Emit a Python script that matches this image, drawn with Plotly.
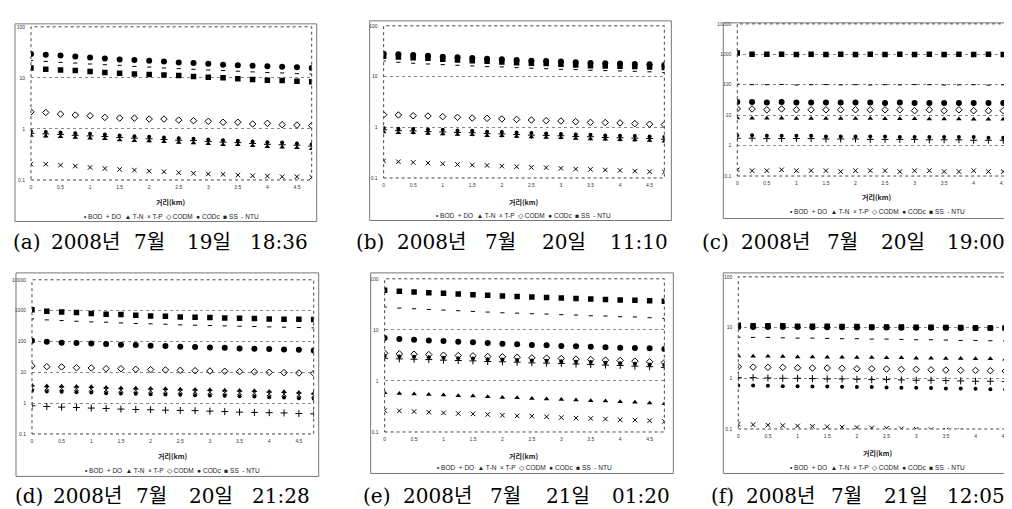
import math
import plotly.graph_objects as go

# ---------------- data ----------------
DIST = [0, 0.25, 0.5, 0.75, 1, 1.25, 1.5, 1.75, 2, 2.25, 2.5, 2.75, 3, 3.25, 3.5, 3.75, 4, 4.25, 4.5, 4.75]
X_TICKS = [0, 0.5, 1, 1.5, 2, 2.5, 3, 3.5, 4, 4.5]
X_TICK_LABELS = ["0", "0.5", "1", "1.5", "2", "2.5", "3", "3.5", "4", "4.5"]
SERIES = ["BOD", "DO", "T-N", "T-P", "CODM", "CODc", "SS", "NTU"]
X_TITLE = "거리(km)"

# (a) 2008-07-19 18:36
A_BOD = [0.90, 0.875, 0.85, 0.82, 0.80, 0.78, 0.74, 0.72, 0.70, 0.68, 0.66, 0.64, 0.62, 0.60, 0.59, 0.57, 0.55, 0.54, 0.52, 0.50]
A_DO = [0.82, 0.80, 0.78, 0.75, 0.73, 0.71, 0.68, 0.66, 0.64, 0.62, 0.60, 0.59, 0.57, 0.55, 0.54, 0.52, 0.50, 0.49, 0.48, 0.46]
A_TN = [0.74, 0.72, 0.70, 0.68, 0.66, 0.64, 0.61, 0.59, 0.58, 0.56, 0.54, 0.53, 0.51, 0.49, 0.49, 0.47, 0.45, 0.44, 0.43, 0.41]
A_TP = [0.204, 0.204, 0.195, 0.187, 0.176, 0.168, 0.161, 0.156, 0.149, 0.145, 0.139, 0.135, 0.131, 0.129, 0.125, 0.121, 0.119, 0.116, 0.116, 0.113]
A_CODM = [2.16, 2.10, 1.95, 1.87, 1.81, 1.68, 1.63, 1.63, 1.56, 1.56, 1.49, 1.45, 1.41, 1.35, 1.35, 1.25, 1.29, 1.21, 1.19, 1.16]
A_CODC = [29.2, 28.3, 27.5, 26.3, 25.1, 24.0, 23.0, 22.3, 21.6, 21.0, 20.1, 19.5, 18.9, 18.1, 17.6, 17.3, 16.8, 16.5, 16.1, 15.6]
A_SS = [15.6, 14.8, 14.3, 13.9, 13.3, 12.7, 12.3, 11.9, 11.6, 11.4, 11.1, 10.6, 10.3, 10.0, 9.6, 9.3, 9.0, 8.9, 8.6, 8.4]
A_NTU = [21.7, 21.0, 20.1, 19.5, 18.7, 18.1, 17.6, 16.8, 16.3, 15.6, 15.2, 14.7, 14.3, 13.9, 13.5, 13.1, 12.7, 12.5, 12.1, 11.9]

# (b) 2008-07-20 11:10
B_BOD = [0.97, 0.94, 0.93, 0.90, 0.89, 0.86, 0.85, 0.82, 0.81, 0.79, 0.77, 0.75, 0.74, 0.72, 0.71, 0.69, 0.68, 0.67, 0.66, 0.64]
B_DO = [0.89, 0.86, 0.85, 0.82, 0.81, 0.79, 0.78, 0.75, 0.74, 0.72, 0.70, 0.69, 0.68, 0.66, 0.65, 0.63, 0.62, 0.61, 0.60, 0.58]
B_TN = [0.81, 0.78, 0.78, 0.75, 0.74, 0.72, 0.71, 0.68, 0.68, 0.66, 0.64, 0.63, 0.62, 0.60, 0.59, 0.58, 0.57, 0.56, 0.55, 0.53]
B_TP = [0.216, 0.209, 0.203, 0.197, 0.191, 0.185, 0.180, 0.177, 0.172, 0.167, 0.162, 0.160, 0.155, 0.150, 0.148, 0.144, 0.141, 0.137, 0.133, 0.131]
B_CODM = [1.77, 1.75, 1.69, 1.67, 1.62, 1.57, 1.52, 1.50, 1.46, 1.43, 1.39, 1.35, 1.33, 1.29, 1.25, 1.24, 1.22, 1.18, 1.15, 1.13]
B_CODC = [28.2, 27.4, 26.6, 25.8, 24.7, 23.9, 23.2, 22.5, 21.9, 21.2, 20.6, 20.3, 19.7, 19.1, 18.5, 18.3, 18.0, 17.7, 17.5, 16.9]
B_SS = [25.0, 24.3, 23.6, 22.9, 21.9, 21.2, 20.6, 20.0, 19.4, 18.8, 18.3, 18.0, 17.5, 16.9, 16.4, 16.2, 16.0, 15.7, 15.5, 15.0]
B_NTU = [20.3, 19.1, 18.3, 17.7, 17.2, 16.7, 16.2, 15.7, 15.5, 15.0, 14.6, 14.3, 13.9, 13.7, 13.3, 13.1, 12.9, 12.7, 12.4, 12.0]

# (c) 2008-07-20 19:00
C_BOD = [2.2, 2.2, 2.1, 2.1, 2.1, 2.1, 2.0, 2.0, 2.0, 2.0, 2.0, 1.9, 1.9, 1.9, 1.9, 1.9, 1.9, 1.8, 1.8, 1.8]
C_DO = [1.75, 1.75, 1.7, 1.7, 1.7, 1.7, 1.65, 1.65, 1.65, 1.6, 1.6, 1.6, 1.6, 1.55, 1.55, 1.55, 1.5, 1.5, 1.5, 1.5]
C_TN = [8.0, 7.9, 7.9, 7.9, 7.8, 7.8, 7.8, 7.7, 7.7, 7.7, 7.6, 7.6, 7.6, 7.5, 7.5, 7.5, 7.4, 7.4, 7.4, 7.3]
C_TP = [0.16, 0.15, 0.15, 0.16, 0.15, 0.15, 0.15, 0.14, 0.15, 0.15, 0.15, 0.14, 0.15, 0.15, 0.14, 0.14, 0.15, 0.14, 0.14, 0.14]
C_CODM = [16, 16, 15, 16, 15, 15, 15, 15, 15, 15, 15, 15, 14, 15, 14, 15, 14, 14, 14, 14]
C_CODC = [27, 27, 26, 27, 26, 26, 26, 26, 26, 26, 25, 26, 25, 25, 25, 25, 25, 25, 25, 25]
C_SS = [1100, 1000, 1000, 1000, 990, 1000, 980, 1000, 990, 1000, 990, 1000, 990, 1000, 980, 1000, 990, 1000, 980, 990]
C_NTU = [105, 100, 100, 102, 98, 100, 101, 99, 100, 98, 100, 99, 101, 100, 98, 99, 100, 97, 99, 98]

# (d) 2008-07-20 21:28
D_BOD = [2.50, 2.38, 2.33, 2.27, 2.21, 2.10, 2.05, 2.00, 1.95, 1.91, 1.86, 1.81, 1.77, 1.73, 1.68, 1.64, 1.56, 1.52, 1.45, 1.38]
D_DO = [0.82, 0.78, 0.74, 0.72, 0.69, 0.67, 0.64, 0.62, 0.61, 0.59, 0.58, 0.57, 0.55, 0.53, 0.51, 0.50, 0.49, 0.48, 0.46, 0.45]
D_TN = [3.81, 3.62, 3.54, 3.45, 3.37, 3.20, 3.12, 3.05, 2.97, 2.90, 2.83, 2.76, 2.69, 2.63, 2.56, 2.50, 2.38, 2.32, 2.21, 2.10]
D_TP = [3.20, 3.04, 2.98, 2.90, 2.83, 2.69, 2.62, 2.56, 2.50, 2.44, 2.38, 2.32, 2.26, 2.21, 2.15, 2.10, 2.00, 1.95, 1.86, 1.77]
D_CODM = [16.0, 15.2, 14.9, 14.1, 13.8, 13.1, 13.1, 12.5, 12.2, 11.9, 11.6, 11.3, 11.0, 10.8, 10.5, 10.3, 10.0, 9.75, 9.52, 9.28]
D_CODC = [105, 97.5, 90.6, 88.3, 86.1, 82.0, 78.0, 76.2, 72.5, 70.7, 67.3, 65.7, 64.0, 62.5, 59.5, 58.0, 56.6, 55.2, 53.8, 51.3]
D_SS = [1077, 951, 906, 862, 800, 762, 743, 707, 673, 657, 625, 609, 595, 580, 566, 552, 539, 525, 525, 513]
D_NTU = [539, 500, 476, 453, 431, 421, 400, 381, 372, 363, 345, 336, 328, 320, 312, 305, 297, 290, 283, 276]

# (e) 2008-07-21 01:20
E_BOD = [3.09, 3.00, 2.96, 2.91, 2.83, 2.79, 2.74, 2.66, 2.63, 2.58, 2.51, 2.48, 2.44, 2.37, 2.34, 2.26, 2.23, 2.17, 2.10, 2.04]
E_DO = [2.78, 2.70, 2.66, 2.62, 2.55, 2.51, 2.47, 2.40, 2.37, 2.33, 2.26, 2.23, 2.20, 2.14, 2.10, 2.04, 2.01, 1.95, 1.90, 1.84]
E_TN = [0.586, 0.569, 0.552, 0.544, 0.528, 0.513, 0.505, 0.490, 0.476, 0.469, 0.455, 0.442, 0.435, 0.423, 0.410, 0.404, 0.392, 0.381, 0.370, 0.359]
E_TP = [0.263, 0.259, 0.251, 0.244, 0.237, 0.230, 0.226, 0.220, 0.213, 0.207, 0.204, 0.198, 0.192, 0.187, 0.184, 0.179, 0.173, 0.171, 0.166, 0.161]
E_CODM = [3.48, 3.38, 3.33, 3.28, 3.19, 3.14, 3.09, 3.00, 2.96, 2.91, 2.83, 2.79, 2.75, 2.67, 2.63, 2.55, 2.51, 2.44, 2.37, 2.30]
E_CODC = [6.90, 6.60, 6.40, 6.22, 6.04, 5.86, 5.69, 5.52, 5.36, 5.20, 5.05, 4.98, 4.83, 4.76, 4.69, 4.55, 4.48, 4.42, 4.35, 4.22]
E_SS = [59.5, 56.9, 55.2, 53.6, 52.0, 50.5, 49.0, 47.6, 46.2, 44.9, 44.2, 42.9, 42.3, 41.0, 40.4, 39.2, 38.6, 38.1, 37.0, 36.4]
E_NTU = [27.9, 26.7, 25.9, 25.1, 24.4, 23.7, 23.0, 22.3, 21.6, 21.3, 20.7, 20.4, 19.8, 19.5, 18.9, 18.7, 18.1, 17.9, 17.3, 16.8]

# (f) 2008-07-21 12:05
F_BOD = [0.72, 0.72, 0.71, 0.70, 0.70, 0.69, 0.69, 0.68, 0.67, 0.67, 0.66, 0.65, 0.65, 0.64, 0.63, 0.63, 0.62, 0.61, 0.60, 0.59]
F_DO = [1.03, 1.03, 1.015, 1.0, 1.0, 0.985, 0.97, 0.97, 0.956, 0.942, 0.942, 0.928, 0.914, 0.914, 0.90, 0.887, 0.874, 0.874, 0.861, 0.848]
F_TN = [2.76, 2.72, 2.72, 2.68, 2.64, 2.64, 2.60, 2.60, 2.56, 2.56, 2.53, 2.53, 2.49, 2.49, 2.45, 2.45, 2.42, 2.42, 2.38, 2.34]
F_TP = [0.125, 0.122, 0.119, 0.117, 0.115, 0.113, 0.111, 0.109, 0.107, 0.105, 0.103, 0.101, 0.099, 0.097, 0.095, 0.093, 0.091, 0.089, 0.087, 0.085]
F_CODM = [1.69, 1.66, 1.64, 1.64, 1.61, 1.59, 1.59, 1.57, 1.54, 1.54, 1.52, 1.50, 1.50, 1.47, 1.45, 1.43, 1.43, 1.41, 1.39, 1.37]
F_CODC = [10.3, 10.3, 10.2, 10.2, 10.2, 10.1, 10.1, 10.1, 10.0, 10.0, 10.0, 9.95, 9.95, 9.9, 9.9, 9.85, 9.85, 9.8, 9.8, 9.75]
F_SS = [11.1, 10.9, 10.9, 10.8, 10.6, 10.6, 10.6, 10.5, 10.5, 10.3, 10.3, 10.3, 10.1, 10.1, 10.0, 10.0, 9.85, 9.85, 9.85, 9.70]
F_NTU = [6.48, 6.39, 6.39, 6.29, 6.20, 6.20, 6.10, 6.02, 6.02, 5.93, 5.93, 5.84, 5.75, 5.75, 5.67, 5.58, 5.58, 5.50, 5.42, 5.34]

CAPTIONS = [
    ["(a)", "2008년", "7월", "19일", "18:36"],
    ["(b)", "2008년", "7월", "20일", "11:10"],
    ["(c)", "2008년", "7월", "20일", "19:00"],
    ["(d)", "2008년", "7월", "20일", "21:28"],
    ["(e)", "2008년", "7월", "21일", "01:20"],
    ["(f)", "2008년", "7월", "21일", "12:05"],
]

PANEL_DATA = [
    [A_BOD, A_DO, A_TN, A_TP, A_CODM, A_CODC, A_SS, A_NTU],
    [B_BOD, B_DO, B_TN, B_TP, B_CODM, B_CODC, B_SS, B_NTU],
    [C_BOD, C_DO, C_TN, C_TP, C_CODM, C_CODC, C_SS, C_NTU],
    [D_BOD, D_DO, D_TN, D_TP, D_CODM, D_CODC, D_SS, D_NTU],
    [E_BOD, E_DO, E_TN, E_TP, E_CODM, E_CODC, E_SS, E_NTU],
    [F_BOD, F_DO, F_TN, F_TP, F_CODM, F_CODC, F_SS, F_NTU],
]
Y_TICKS_SMALL = [0.1, 1, 10, 100]
Y_TICKS_BIG = [0.1, 1, 10, 100, 1000, 10000]

# ---------------- styling / layout ----------------
W, H = 1012, 509
STYLE = {
    "BOD": dict(symbol="circle", size=4),
    "DO": dict(symbol="cross-thin", size=5, line=dict(width=1, color="black")),
    "T-N": dict(symbol="triangle-up", size=5),
    "T-P": dict(symbol="x-thin", size=4.5, line=dict(width=1, color="black")),
    "CODM": dict(symbol="diamond-open", size=5, line=dict(width=1, color="black")),
    "CODc": dict(symbol="circle", size=6),
    "SS": dict(symbol="square", size=5.5),
    "NTU": dict(symbol="line-ew", size=3, line=dict(width=1, color="black")),
}

# plot area px (left, top, right, bottom), outer box, title y, legend y, caption (x0, x1, y), y ticks
PANELS = [
    dict(plot=(22, 16, 303, 171), box=(6, 13, 308, 213), ty=193, ly=208, cap=(3, 302, 234), yt=Y_TICKS_SMALL),
    dict(plot=(375, 15, 656, 169), box=(361, 10, 663, 212), ty=193, ly=207, cap=(345, 664, 234), yt=Y_TICKS_SMALL),
    dict(plot=(729, 13, 1010, 167), box=(715, 12, 1011, 210), ty=188, ly=203, cap=(692, 1000, 234), yt=Y_TICKS_BIG),
    dict(plot=(23, 272, 305, 428), box=(7, 265, 310, 471), ty=450, ly=465, cap=(5, 304, 491), yt=Y_TICKS_BIG),
    dict(plot=(376, 271, 656, 426), box=(362, 265, 665, 468), ty=450, ly=462, cap=(352, 666, 491), yt=Y_TICKS_SMALL),
    dict(plot=(730, 269, 1012, 423), box=(715, 265, 1011, 468), ty=447, ly=462, cap=(699, 1000, 491), yt=Y_TICKS_SMALL),
]
WORD_FRAC = [0.05, 0.245, 0.462, 0.66, 0.895]
LEGEND_TEXT = "• BOD  + DO  ▲ T-N  × T-P  ◇ CODM  ● CODc  ■ SS  - NTU"


def px(x):
    return x / W


def py(y):
    return 1 - y / H


fig = go.Figure()
shapes, annotations = [], []
layout = dict(width=W, height=H, margin=dict(l=0, r=0, t=0, b=0),
              paper_bgcolor="white", plot_bgcolor="white", showlegend=False)

for i, (p, vals) in enumerate(zip(PANELS, PANEL_DATA)):
    n = i + 1
    xa = "x" if n == 1 else f"x{n}"
    ya = "y" if n == 1 else f"y{n}"
    for name, v in zip(SERIES, vals):
        st = STYLE[name]
        mk = dict(color="black", symbol=st["symbol"], size=st["size"])
        if "line" in st:
            mk["line"] = st["line"]
        fig.add_trace(go.Scatter(x=DIST, y=v, mode="markers", name=name, marker=mk,
                                 xaxis=xa, yaxis=ya, showlegend=False))
    l, t, r, b = p["plot"]
    yt = p["yt"]
    layout[f"xaxis{'' if n == 1 else n}"] = dict(
        domain=[px(l), min(px(r), 1.0)], anchor=ya, range=[0, 4.75],
        tickvals=X_TICKS, ticktext=X_TICK_LABELS, showgrid=False, zeroline=False,
        showline=False, ticks="", tickfont=dict(size=5, color="#333", family="Liberation Sans"),
        ticklabelstandoff=3)
    layout[f"yaxis{'' if n == 1 else n}"] = dict(
        domain=[py(b), py(t)], anchor=xa, type="log",
        range=[math.log10(yt[0]), math.log10(yt[-1])],
        tickvals=yt, ticktext=[("%g" % v) for v in yt], showgrid=True,
        gridcolor="#888", griddash="dot", gridwidth=1, zeroline=False, showline=False,
        ticks="", tickfont=dict(size=5, color="#333", family="Liberation Sans"),
        ticklabelstandoff=5)
    # dotted plot-area border
    shapes.append(dict(type="rect", xref=f"{xa} domain", yref=f"{ya} domain",
                       x0=0, x1=1, y0=0, y1=1, line=dict(color="#444", width=1, dash="dot")))
    # outer chart box
    bl, bt, br, bb = p["box"]
    shapes.append(dict(type="rect", xref="paper", yref="paper", x0=px(bl), x1=px(br),
                       y0=py(bb), y1=py(bt), line=dict(color="#777", width=1)))
    cx = (l + min(r, 1009)) / 2
    annotations.append(dict(text=f"<b>{X_TITLE}</b>", x=px(cx), y=py(p["ty"]), xref="paper",
                            yref="paper", showarrow=False, xanchor="center", yanchor="middle",
                            font=dict(size=7, color="#222", family="Noto Sans CJK KR")))
    annotations.append(dict(text=LEGEND_TEXT, x=px(cx), y=py(p["ly"]), xref="paper",
                            yref="paper", showarrow=False, xanchor="center", yanchor="middle",
                            font=dict(size=6.5, color="#222", family="Liberation Sans")))
    c0, c1, cy = p["cap"]
    for word, fr in zip(CAPTIONS[i], WORD_FRAC):
        annotations.append(dict(text=word, x=px(c0 + fr * (c1 - c0)), y=py(cy), xref="paper",
                                yref="paper", showarrow=False, xanchor="center", yanchor="middle",
                                font=dict(size=20, color="#000",
                                          family="DejaVu Serif, Noto Sans CJK KR")))

layout["shapes"] = shapes
layout["annotations"] = annotations
fig.update_layout(**layout)
fig.write_html("out.html")
